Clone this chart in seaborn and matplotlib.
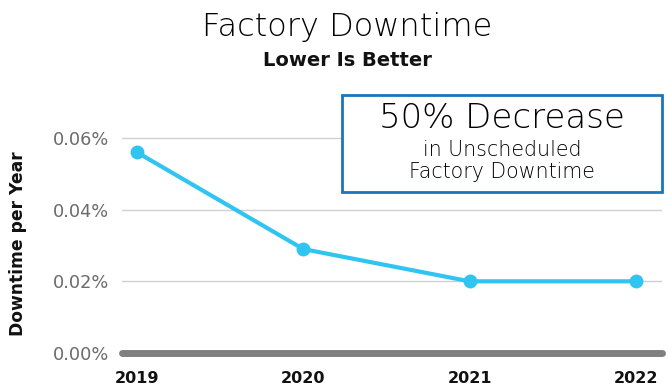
import matplotlib
matplotlib.use("Agg")
import matplotlib.pyplot as plt
import seaborn as sns
import pandas as pd
from matplotlib.ticker import FuncFormatter
from matplotlib.patches import Rectangle

years = ["2019", "2020", "2021", "2022"]
downtime = [0.056, 0.029, 0.020, 0.020]
ytick_vals = [0.0, 0.02, 0.04, 0.06]

df = pd.DataFrame({"Year": years, "Downtime": downtime})

sns.set_theme(style="white")
plt.rcParams['font.family'] = ['DejaVu Sans']

LIGHT = ['DejaVu Sans']

fig = plt.figure(figsize=(6.66, 3.85), dpi=100)
ax = fig.add_axes([122/666, 32/385, 540/666, 243/385])

sns.lineplot(data=df, x="Year", y="Downtime", ax=ax, color="#30c4f0",
             linewidth=3, marker="o", markersize=10, markeredgewidth=0,
             sort=False, zorder=3)

ax.set_xlim(-0.09, 3.157)
ax.set_ylim(0, 0.0678)
ax.set_yticks(ytick_vals)
ax.yaxis.set_major_formatter(FuncFormatter(lambda v, p: f"{v:.2f}%"))
ax.grid(axis="y", color="#cfcfcf", linewidth=1)
ax.grid(axis="x", visible=False)
for s in ["top", "right", "left"]:
    ax.spines[s].set_visible(False)
ax.spines["bottom"].set_color("#808080")
ax.spines["bottom"].set_linewidth(5)
ax.spines["bottom"].set_capstyle("round")
ax.spines["bottom"].set_zorder(2)

ax.tick_params(axis="y", length=0, pad=9, labelsize=12.8, labelcolor="#6b6b6b")
ax.tick_params(axis="x", length=0, pad=13, labelsize=11.5)
for lbl in ax.get_xticklabels():
    lbl.set_fontweight("bold")
    lbl.set_color("#111111")

ax.set_xlabel("")
ax.set_ylabel("Downtime per Year", fontsize=12.3, fontweight="bold", color="#111111")
ax.yaxis.set_label_coords(-0.175, 0.45)

fig.text(347/666, 1 - 27/385, "Factory Downtime", ha="center", va="center",
         fontsize=23, fontweight=200, family=LIGHT, color="#000000")
fig.text(347/666, 1 - 60/385, "Lower Is Better", ha="center", va="center",
         fontsize=14, fontweight="bold", color="#111111")

bx0, by0, bx1, by1 = 342, 95, 662, 192
rect = Rectangle((bx0/666, 1 - by1/385), (bx1-bx0)/666, (by1-by0)/385,
                 transform=fig.transFigure, facecolor="white",
                 edgecolor="#1b75bc", linewidth=2, zorder=5)
fig.patches.append(rect)
cx = (bx0 + bx1) / 2 / 666
fig.text(cx, 1 - 119/385, "50% Decrease", ha="center", va="center",
         fontsize=24.5, fontweight=200, family=LIGHT, color="#000000", zorder=6)
fig.text(cx, 1 - 150/385, "in Unscheduled", ha="center", va="center",
         fontsize=14.8, fontweight=200, family=LIGHT, color="#000000", zorder=6)
fig.text(cx, 1 - 172/385, "Factory Downtime", ha="center", va="center",
         fontsize=14.8, fontweight=200, family=LIGHT, color="#000000", zorder=6)

fig.savefig("out.png", dpi=100)
